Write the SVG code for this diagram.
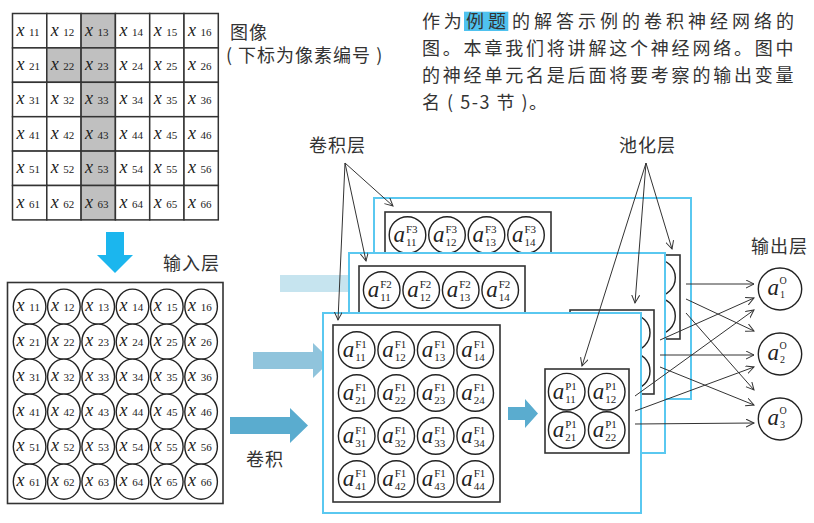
<svg xmlns="http://www.w3.org/2000/svg" width="814" height="523" viewBox="0 0 814 523">
<style>
.cell{fill:#fff;stroke:#333;stroke-width:1.5}
.gray{fill:#c0c0c0}
.xv{font-family:"Liberation Serif","Times New Roman",serif;font-style:italic;font-size:18px;fill:#222}
.sb{font-family:"Liberation Serif","Times New Roman",serif;font-style:normal;font-size:11px;fill:#222}
.nd{fill:#fff;stroke:#222;stroke-width:1.4}
.av{font-family:"Liberation Serif","Times New Roman",serif;font-style:italic;font-size:23px;fill:#222}
.sp{font-family:"Liberation Serif","Times New Roman",serif;font-style:normal;font-size:11px;fill:#222}
.op{font-family:"Liberation Serif","Times New Roman",serif;font-style:normal;font-size:10px;fill:#222}
.cj{font-family:"Noto Sans CJK SC","Noto Sans",sans-serif;font-size:18px;fill:#333;letter-spacing:1px}
.pg{font-family:"Noto Sans CJK SC","Noto Sans",sans-serif;font-size:18px;fill:#333}
.panel{fill:#fff;stroke:#5ac8f0;stroke-width:2}
.box{fill:#fff;stroke:#333;stroke-width:1.6}
.conn{stroke:#333;stroke-width:1;fill:none;marker-end:url(#ah)}
</style>
<defs>
<marker id="ah" markerUnits="userSpaceOnUse" markerWidth="10" markerHeight="10" refX="8" refY="4" orient="auto">
<path d="M0,0 L8,4 L0,8" fill="none" stroke="#333" stroke-width="1"/>
</marker>
</defs>

<!-- image grid -->
<g id="image-grid">
<g id="img-x11"><rect class="cell" x="12.5" y="13.5" width="34.3" height="34.4"/><text class="xv" x="16.5" y="35.5">x<tspan class="sb" x="29">11</tspan></text></g>
<g id="img-x12"><rect class="cell" x="46.8" y="13.5" width="34.3" height="34.4"/><text class="xv" x="50.8" y="35.5">x<tspan class="sb" x="63.3">12</tspan></text></g>
<g id="img-x13"><rect class="cell gray" x="81.1" y="13.5" width="34.3" height="34.4"/><text class="xv" x="85.1" y="35.5">x<tspan class="sb" x="97.6">13</tspan></text></g>
<g id="img-x14"><rect class="cell" x="115.4" y="13.5" width="34.3" height="34.4"/><text class="xv" x="119.4" y="35.5">x<tspan class="sb" x="131.9">14</tspan></text></g>
<g id="img-x15"><rect class="cell" x="149.7" y="13.5" width="34.3" height="34.4"/><text class="xv" x="153.7" y="35.5">x<tspan class="sb" x="166.2">15</tspan></text></g>
<g id="img-x16"><rect class="cell" x="184" y="13.5" width="34.3" height="34.4"/><text class="xv" x="188" y="35.5">x<tspan class="sb" x="200.5">16</tspan></text></g>

<g id="img-x21"><rect class="cell" x="12.5" y="47.9" width="34.3" height="34.4"/><text class="xv" x="16.5" y="69.9">x<tspan class="sb" x="29">21</tspan></text></g>
<g id="img-x22"><rect class="cell gray" x="46.8" y="47.9" width="34.3" height="34.4"/><text class="xv" x="50.8" y="69.9">x<tspan class="sb" x="63.3">22</tspan></text></g>
<g id="img-x23"><rect class="cell gray" x="81.1" y="47.9" width="34.3" height="34.4"/><text class="xv" x="85.1" y="69.9">x<tspan class="sb" x="97.6">23</tspan></text></g>
<g id="img-x24"><rect class="cell" x="115.4" y="47.9" width="34.3" height="34.4"/><text class="xv" x="119.4" y="69.9">x<tspan class="sb" x="131.9">24</tspan></text></g>
<g id="img-x25"><rect class="cell" x="149.7" y="47.9" width="34.3" height="34.4"/><text class="xv" x="153.7" y="69.9">x<tspan class="sb" x="166.2">25</tspan></text></g>
<g id="img-x26"><rect class="cell" x="184" y="47.9" width="34.3" height="34.4"/><text class="xv" x="188" y="69.9">x<tspan class="sb" x="200.5">26</tspan></text></g>

<g id="img-x31"><rect class="cell" x="12.5" y="82.3" width="34.3" height="34.4"/><text class="xv" x="16.5" y="104.3">x<tspan class="sb" x="29">31</tspan></text></g>
<g id="img-x32"><rect class="cell" x="46.8" y="82.3" width="34.3" height="34.4"/><text class="xv" x="50.8" y="104.3">x<tspan class="sb" x="63.3">32</tspan></text></g>
<g id="img-x33"><rect class="cell gray" x="81.1" y="82.3" width="34.3" height="34.4"/><text class="xv" x="85.1" y="104.3">x<tspan class="sb" x="97.6">33</tspan></text></g>
<g id="img-x34"><rect class="cell" x="115.4" y="82.3" width="34.3" height="34.4"/><text class="xv" x="119.4" y="104.3">x<tspan class="sb" x="131.9">34</tspan></text></g>
<g id="img-x35"><rect class="cell" x="149.7" y="82.3" width="34.3" height="34.4"/><text class="xv" x="153.7" y="104.3">x<tspan class="sb" x="166.2">35</tspan></text></g>
<g id="img-x36"><rect class="cell" x="184" y="82.3" width="34.3" height="34.4"/><text class="xv" x="188" y="104.3">x<tspan class="sb" x="200.5">36</tspan></text></g>

<g id="img-x41"><rect class="cell" x="12.5" y="116.7" width="34.3" height="34.4"/><text class="xv" x="16.5" y="138.7">x<tspan class="sb" x="29">41</tspan></text></g>
<g id="img-x42"><rect class="cell" x="46.8" y="116.7" width="34.3" height="34.4"/><text class="xv" x="50.8" y="138.7">x<tspan class="sb" x="63.3">42</tspan></text></g>
<g id="img-x43"><rect class="cell gray" x="81.1" y="116.7" width="34.3" height="34.4"/><text class="xv" x="85.1" y="138.7">x<tspan class="sb" x="97.6">43</tspan></text></g>
<g id="img-x44"><rect class="cell" x="115.4" y="116.7" width="34.3" height="34.4"/><text class="xv" x="119.4" y="138.7">x<tspan class="sb" x="131.9">44</tspan></text></g>
<g id="img-x45"><rect class="cell" x="149.7" y="116.7" width="34.3" height="34.4"/><text class="xv" x="153.7" y="138.7">x<tspan class="sb" x="166.2">45</tspan></text></g>
<g id="img-x46"><rect class="cell" x="184" y="116.7" width="34.3" height="34.4"/><text class="xv" x="188" y="138.7">x<tspan class="sb" x="200.5">46</tspan></text></g>

<g id="img-x51"><rect class="cell" x="12.5" y="151.1" width="34.3" height="34.4"/><text class="xv" x="16.5" y="173.1">x<tspan class="sb" x="29">51</tspan></text></g>
<g id="img-x52"><rect class="cell" x="46.8" y="151.1" width="34.3" height="34.4"/><text class="xv" x="50.8" y="173.1">x<tspan class="sb" x="63.3">52</tspan></text></g>
<g id="img-x53"><rect class="cell gray" x="81.1" y="151.1" width="34.3" height="34.4"/><text class="xv" x="85.1" y="173.1">x<tspan class="sb" x="97.6">53</tspan></text></g>
<g id="img-x54"><rect class="cell" x="115.4" y="151.1" width="34.3" height="34.4"/><text class="xv" x="119.4" y="173.1">x<tspan class="sb" x="131.9">54</tspan></text></g>
<g id="img-x55"><rect class="cell" x="149.7" y="151.1" width="34.3" height="34.4"/><text class="xv" x="153.7" y="173.1">x<tspan class="sb" x="166.2">55</tspan></text></g>
<g id="img-x56"><rect class="cell" x="184" y="151.1" width="34.3" height="34.4"/><text class="xv" x="188" y="173.1">x<tspan class="sb" x="200.5">56</tspan></text></g>

<g id="img-x61"><rect class="cell" x="12.5" y="185.5" width="34.3" height="34.4"/><text class="xv" x="16.5" y="207.5">x<tspan class="sb" x="29">61</tspan></text></g>
<g id="img-x62"><rect class="cell" x="46.8" y="185.5" width="34.3" height="34.4"/><text class="xv" x="50.8" y="207.5">x<tspan class="sb" x="63.3">62</tspan></text></g>
<g id="img-x63"><rect class="cell gray" x="81.1" y="185.5" width="34.3" height="34.4"/><text class="xv" x="85.1" y="207.5">x<tspan class="sb" x="97.6">63</tspan></text></g>
<g id="img-x64"><rect class="cell" x="115.4" y="185.5" width="34.3" height="34.4"/><text class="xv" x="119.4" y="207.5">x<tspan class="sb" x="131.9">64</tspan></text></g>
<g id="img-x65"><rect class="cell" x="149.7" y="185.5" width="34.3" height="34.4"/><text class="xv" x="153.7" y="207.5">x<tspan class="sb" x="166.2">65</tspan></text></g>
<g id="img-x66"><rect class="cell" x="184" y="185.5" width="34.3" height="34.4"/><text class="xv" x="188" y="207.5">x<tspan class="sb" x="200.5">66</tspan></text></g>
</g>

<!-- labels -->
<g id="labels">
<text class="cj" x="230" y="38.5">图像</text>
<text class="cj" x="226" y="62" letter-spacing="1.5">( 下标为像素编号 )</text>
<text class="cj" x="163" y="270">输入层</text>
<text class="cj" x="246" y="466">卷积</text>
<text class="cj" x="309" y="151.5">卷积层</text>
<text class="cj" x="619" y="151.5">池化层</text>
<text class="cj" x="751" y="252.5">输出层</text>
</g>

<!-- caption paragraph -->
<g id="caption">
<rect x="464" y="11.7" width="44.3" height="19.3" fill="#4fc2ef"/>
<text class="pg" x="422" y="28" letter-spacing="3.7">作为</text>
<text class="pg" x="466" y="28" letter-spacing="4" fill="#fff">例题</text>
<text class="pg" x="512" y="28" letter-spacing="4">的解答示例的卷积神经网络的</text>
<text class="pg" x="422" y="55" letter-spacing="2.8">图。本章我们将讲解这个神经网络。图中</text>
<text class="pg" x="422" y="82" letter-spacing="2.8">的神经单元名是后面将要考察的输出变量</text>
<text class="pg" x="422" y="108.5" letter-spacing="1.5">名 ( 5-3 节 )。</text>
</g>

<!-- big arrows -->
<g id="big-arrows">
<polygon points="106,232 124,232 124,255 133,255 115,273 97,255 106,255" fill="#1bb6ee"/>
<polygon points="280,275 352,275 352,266 370,283.5 352,301 352,292 280,292" fill="#c6e4ef"/>
<polygon points="253,352 313,352 313,343 331,360.5 313,378 313,369 253,369" fill="#90c4dc"/>
<polygon points="230,417 290,417 290,408 308,425.5 290,443 290,434 230,434" fill="#5aaccf"/>
</g>

<!-- input layer -->
<g id="input-layer">
<rect x="7.5" y="282.5" width="215.5" height="221" fill="#fff" stroke="#333" stroke-width="1.6"/>
<g id="in-x11"><ellipse class="nd" cx="29.6" cy="306.7" rx="16.3" ry="17.6"/><text class="xv" x="16.6" y="310.7">x<tspan class="sb" x="29.3">11</tspan></text></g>
<g id="in-x12"><ellipse class="nd" cx="63.9" cy="306.7" rx="16.3" ry="17.6"/><text class="xv" x="50.9" y="310.7">x<tspan class="sb" x="63.6">12</tspan></text></g>
<g id="in-x13"><ellipse class="nd" cx="98.2" cy="306.7" rx="16.3" ry="17.6"/><text class="xv" x="85.2" y="310.7">x<tspan class="sb" x="97.9">13</tspan></text></g>
<g id="in-x14"><ellipse class="nd" cx="132.5" cy="306.7" rx="16.3" ry="17.6"/><text class="xv" x="119.5" y="310.7">x<tspan class="sb" x="132.2">14</tspan></text></g>
<g id="in-x15"><ellipse class="nd" cx="166.8" cy="306.7" rx="16.3" ry="17.6"/><text class="xv" x="153.8" y="310.7">x<tspan class="sb" x="166.5">15</tspan></text></g>
<g id="in-x16"><ellipse class="nd" cx="201.1" cy="306.7" rx="16.3" ry="17.6"/><text class="xv" x="188.1" y="310.7">x<tspan class="sb" x="200.8">16</tspan></text></g>

<g id="in-x21"><ellipse class="nd" cx="29.6" cy="341.7" rx="16.3" ry="17.6"/><text class="xv" x="16.6" y="345.7">x<tspan class="sb" x="29.3">21</tspan></text></g>
<g id="in-x22"><ellipse class="nd" cx="63.9" cy="341.7" rx="16.3" ry="17.6"/><text class="xv" x="50.9" y="345.7">x<tspan class="sb" x="63.6">22</tspan></text></g>
<g id="in-x23"><ellipse class="nd" cx="98.2" cy="341.7" rx="16.3" ry="17.6"/><text class="xv" x="85.2" y="345.7">x<tspan class="sb" x="97.9">23</tspan></text></g>
<g id="in-x24"><ellipse class="nd" cx="132.5" cy="341.7" rx="16.3" ry="17.6"/><text class="xv" x="119.5" y="345.7">x<tspan class="sb" x="132.2">24</tspan></text></g>
<g id="in-x25"><ellipse class="nd" cx="166.8" cy="341.7" rx="16.3" ry="17.6"/><text class="xv" x="153.8" y="345.7">x<tspan class="sb" x="166.5">25</tspan></text></g>
<g id="in-x26"><ellipse class="nd" cx="201.1" cy="341.7" rx="16.3" ry="17.6"/><text class="xv" x="188.1" y="345.7">x<tspan class="sb" x="200.8">26</tspan></text></g>

<g id="in-x31"><ellipse class="nd" cx="29.6" cy="376.7" rx="16.3" ry="17.6"/><text class="xv" x="16.6" y="380.7">x<tspan class="sb" x="29.3">31</tspan></text></g>
<g id="in-x32"><ellipse class="nd" cx="63.9" cy="376.7" rx="16.3" ry="17.6"/><text class="xv" x="50.9" y="380.7">x<tspan class="sb" x="63.6">32</tspan></text></g>
<g id="in-x33"><ellipse class="nd" cx="98.2" cy="376.7" rx="16.3" ry="17.6"/><text class="xv" x="85.2" y="380.7">x<tspan class="sb" x="97.9">33</tspan></text></g>
<g id="in-x34"><ellipse class="nd" cx="132.5" cy="376.7" rx="16.3" ry="17.6"/><text class="xv" x="119.5" y="380.7">x<tspan class="sb" x="132.2">34</tspan></text></g>
<g id="in-x35"><ellipse class="nd" cx="166.8" cy="376.7" rx="16.3" ry="17.6"/><text class="xv" x="153.8" y="380.7">x<tspan class="sb" x="166.5">35</tspan></text></g>
<g id="in-x36"><ellipse class="nd" cx="201.1" cy="376.7" rx="16.3" ry="17.6"/><text class="xv" x="188.1" y="380.7">x<tspan class="sb" x="200.8">36</tspan></text></g>

<g id="in-x41"><ellipse class="nd" cx="29.6" cy="411.7" rx="16.3" ry="17.6"/><text class="xv" x="16.6" y="415.7">x<tspan class="sb" x="29.3">41</tspan></text></g>
<g id="in-x42"><ellipse class="nd" cx="63.9" cy="411.7" rx="16.3" ry="17.6"/><text class="xv" x="50.9" y="415.7">x<tspan class="sb" x="63.6">42</tspan></text></g>
<g id="in-x43"><ellipse class="nd" cx="98.2" cy="411.7" rx="16.3" ry="17.6"/><text class="xv" x="85.2" y="415.7">x<tspan class="sb" x="97.9">43</tspan></text></g>
<g id="in-x44"><ellipse class="nd" cx="132.5" cy="411.7" rx="16.3" ry="17.6"/><text class="xv" x="119.5" y="415.7">x<tspan class="sb" x="132.2">44</tspan></text></g>
<g id="in-x45"><ellipse class="nd" cx="166.8" cy="411.7" rx="16.3" ry="17.6"/><text class="xv" x="153.8" y="415.7">x<tspan class="sb" x="166.5">45</tspan></text></g>
<g id="in-x46"><ellipse class="nd" cx="201.1" cy="411.7" rx="16.3" ry="17.6"/><text class="xv" x="188.1" y="415.7">x<tspan class="sb" x="200.8">46</tspan></text></g>

<g id="in-x51"><ellipse class="nd" cx="29.6" cy="446.7" rx="16.3" ry="17.6"/><text class="xv" x="16.6" y="450.7">x<tspan class="sb" x="29.3">51</tspan></text></g>
<g id="in-x52"><ellipse class="nd" cx="63.9" cy="446.7" rx="16.3" ry="17.6"/><text class="xv" x="50.9" y="450.7">x<tspan class="sb" x="63.6">52</tspan></text></g>
<g id="in-x53"><ellipse class="nd" cx="98.2" cy="446.7" rx="16.3" ry="17.6"/><text class="xv" x="85.2" y="450.7">x<tspan class="sb" x="97.9">53</tspan></text></g>
<g id="in-x54"><ellipse class="nd" cx="132.5" cy="446.7" rx="16.3" ry="17.6"/><text class="xv" x="119.5" y="450.7">x<tspan class="sb" x="132.2">54</tspan></text></g>
<g id="in-x55"><ellipse class="nd" cx="166.8" cy="446.7" rx="16.3" ry="17.6"/><text class="xv" x="153.8" y="450.7">x<tspan class="sb" x="166.5">55</tspan></text></g>
<g id="in-x56"><ellipse class="nd" cx="201.1" cy="446.7" rx="16.3" ry="17.6"/><text class="xv" x="188.1" y="450.7">x<tspan class="sb" x="200.8">56</tspan></text></g>

<g id="in-x61"><ellipse class="nd" cx="29.6" cy="481.7" rx="16.3" ry="17.6"/><text class="xv" x="16.6" y="485.7">x<tspan class="sb" x="29.3">61</tspan></text></g>
<g id="in-x62"><ellipse class="nd" cx="63.9" cy="481.7" rx="16.3" ry="17.6"/><text class="xv" x="50.9" y="485.7">x<tspan class="sb" x="63.6">62</tspan></text></g>
<g id="in-x63"><ellipse class="nd" cx="98.2" cy="481.7" rx="16.3" ry="17.6"/><text class="xv" x="85.2" y="485.7">x<tspan class="sb" x="97.9">63</tspan></text></g>
<g id="in-x64"><ellipse class="nd" cx="132.5" cy="481.7" rx="16.3" ry="17.6"/><text class="xv" x="119.5" y="485.7">x<tspan class="sb" x="132.2">64</tspan></text></g>
<g id="in-x65"><ellipse class="nd" cx="166.8" cy="481.7" rx="16.3" ry="17.6"/><text class="xv" x="153.8" y="485.7">x<tspan class="sb" x="166.5">65</tspan></text></g>
<g id="in-x66"><ellipse class="nd" cx="201.1" cy="481.7" rx="16.3" ry="17.6"/><text class="xv" x="188.1" y="485.7">x<tspan class="sb" x="200.8">66</tspan></text></g>
</g>

<!-- feature map F3 -->
<g id="map-F3">
<rect class="panel" x="374" y="198" width="317" height="201"/>
<rect class="box" x="385" y="212" width="166" height="177"/>
<g id="aF3-11"><circle class="nd" cx="407.5" cy="235" r="18.3"/><text class="av" x="393.5" y="242">a<tspan class="sp" x="406" y="233">F3</tspan><tspan class="sp" x="406" y="246">11</tspan></text></g>
<g id="aF3-12"><circle class="nd" cx="447" cy="235" r="18.3"/><text class="av" x="433" y="242">a<tspan class="sp" x="445.5" y="233">F3</tspan><tspan class="sp" x="445.5" y="246">12</tspan></text></g>
<g id="aF3-13"><circle class="nd" cx="486.5" cy="235" r="18.3"/><text class="av" x="472.5" y="242">a<tspan class="sp" x="485" y="233">F3</tspan><tspan class="sp" x="485" y="246">13</tspan></text></g>
<g id="aF3-14"><circle class="nd" cx="526" cy="235" r="18.3"/><text class="av" x="512" y="242">a<tspan class="sp" x="524.5" y="233">F3</tspan><tspan class="sp" x="524.5" y="246">14</tspan></text></g>
<g id="pool-P3">
<rect class="box" x="596" y="255" width="84" height="84"/>
<circle class="nd" cx="617" cy="277.7" r="18.3"/><circle class="nd" cx="657" cy="277.7" r="18.3"/>
<circle class="nd" cx="617" cy="316" r="18.3"/><circle class="nd" cx="657" cy="316" r="18.3"/>
</g>
</g>

<!-- feature map F2 -->
<g id="map-F2">
<rect class="panel" x="349" y="253" width="316" height="200"/>
<rect class="box" x="359" y="266" width="166" height="177"/>
<g id="aF2-11"><circle class="nd" cx="381.7" cy="290" r="18.3"/><text class="av" x="367.7" y="297">a<tspan class="sp" x="380.2" y="288">F2</tspan><tspan class="sp" x="380.2" y="301">11</tspan></text></g>
<g id="aF2-12"><circle class="nd" cx="421.2" cy="290" r="18.3"/><text class="av" x="407.2" y="297">a<tspan class="sp" x="419.7" y="288">F2</tspan><tspan class="sp" x="419.7" y="301">12</tspan></text></g>
<g id="aF2-13"><circle class="nd" cx="460.7" cy="290" r="18.3"/><text class="av" x="446.7" y="297">a<tspan class="sp" x="459.2" y="288">F2</tspan><tspan class="sp" x="459.2" y="301">13</tspan></text></g>
<g id="aF2-14"><circle class="nd" cx="500.2" cy="290" r="18.3"/><text class="av" x="486.2" y="297">a<tspan class="sp" x="498.7" y="288">F2</tspan><tspan class="sp" x="498.7" y="301">14</tspan></text></g>
<g id="pool-P2">
<rect class="box" x="570" y="310" width="84" height="84"/>
<circle class="nd" cx="591.7" cy="332.7" r="18.3"/><circle class="nd" cx="631.7" cy="332.7" r="18.3"/>
<circle class="nd" cx="591.7" cy="371" r="18.3"/><circle class="nd" cx="631.7" cy="371" r="18.3"/>
</g>
</g>

<!-- feature map F1 -->
<g id="map-F1">
<rect class="panel" x="323" y="313" width="318" height="200"/>
<rect class="box" x="333" y="325" width="167" height="177"/>
<g id="aF1-11"><circle class="nd" cx="356.7" cy="350" r="18.3"/><text class="av" x="342.7" y="357">a<tspan class="sp" x="355.2" y="348">F1</tspan><tspan class="sp" x="355.2" y="361">11</tspan></text></g>
<g id="aF1-12"><circle class="nd" cx="396.2" cy="350" r="18.3"/><text class="av" x="382.2" y="357">a<tspan class="sp" x="394.7" y="348">F1</tspan><tspan class="sp" x="394.7" y="361">12</tspan></text></g>
<g id="aF1-13"><circle class="nd" cx="435.7" cy="350" r="18.3"/><text class="av" x="421.7" y="357">a<tspan class="sp" x="434.2" y="348">F1</tspan><tspan class="sp" x="434.2" y="361">13</tspan></text></g>
<g id="aF1-14"><circle class="nd" cx="475.2" cy="350" r="18.3"/><text class="av" x="461.2" y="357">a<tspan class="sp" x="473.7" y="348">F1</tspan><tspan class="sp" x="473.7" y="361">14</tspan></text></g>
<g id="aF1-21"><circle class="nd" cx="356.7" cy="393" r="18.3"/><text class="av" x="342.7" y="400">a<tspan class="sp" x="355.2" y="391">F1</tspan><tspan class="sp" x="355.2" y="404">21</tspan></text></g>
<g id="aF1-22"><circle class="nd" cx="396.2" cy="393" r="18.3"/><text class="av" x="382.2" y="400">a<tspan class="sp" x="394.7" y="391">F1</tspan><tspan class="sp" x="394.7" y="404">22</tspan></text></g>
<g id="aF1-23"><circle class="nd" cx="435.7" cy="393" r="18.3"/><text class="av" x="421.7" y="400">a<tspan class="sp" x="434.2" y="391">F1</tspan><tspan class="sp" x="434.2" y="404">23</tspan></text></g>
<g id="aF1-24"><circle class="nd" cx="475.2" cy="393" r="18.3"/><text class="av" x="461.2" y="400">a<tspan class="sp" x="473.7" y="391">F1</tspan><tspan class="sp" x="473.7" y="404">24</tspan></text></g>
<g id="aF1-31"><circle class="nd" cx="356.7" cy="436" r="18.3"/><text class="av" x="342.7" y="443">a<tspan class="sp" x="355.2" y="434">F1</tspan><tspan class="sp" x="355.2" y="447">31</tspan></text></g>
<g id="aF1-32"><circle class="nd" cx="396.2" cy="436" r="18.3"/><text class="av" x="382.2" y="443">a<tspan class="sp" x="394.7" y="434">F1</tspan><tspan class="sp" x="394.7" y="447">32</tspan></text></g>
<g id="aF1-33"><circle class="nd" cx="435.7" cy="436" r="18.3"/><text class="av" x="421.7" y="443">a<tspan class="sp" x="434.2" y="434">F1</tspan><tspan class="sp" x="434.2" y="447">33</tspan></text></g>
<g id="aF1-34"><circle class="nd" cx="475.2" cy="436" r="18.3"/><text class="av" x="461.2" y="443">a<tspan class="sp" x="473.7" y="434">F1</tspan><tspan class="sp" x="473.7" y="447">34</tspan></text></g>
<g id="aF1-41"><circle class="nd" cx="356.7" cy="479" r="18.3"/><text class="av" x="342.7" y="486">a<tspan class="sp" x="355.2" y="477">F1</tspan><tspan class="sp" x="355.2" y="490">41</tspan></text></g>
<g id="aF1-42"><circle class="nd" cx="396.2" cy="479" r="18.3"/><text class="av" x="382.2" y="486">a<tspan class="sp" x="394.7" y="477">F1</tspan><tspan class="sp" x="394.7" y="490">42</tspan></text></g>
<g id="aF1-43"><circle class="nd" cx="435.7" cy="479" r="18.3"/><text class="av" x="421.7" y="486">a<tspan class="sp" x="434.2" y="477">F1</tspan><tspan class="sp" x="434.2" y="490">43</tspan></text></g>
<g id="aF1-44"><circle class="nd" cx="475.2" cy="479" r="18.3"/><text class="av" x="461.2" y="486">a<tspan class="sp" x="473.7" y="477">F1</tspan><tspan class="sp" x="473.7" y="490">44</tspan></text></g>
<polygon points="508,407 525,407 525,399 538,413.5 525,428 525,420 508,420" fill="#5aaccf"/>
<g id="pool-P1">
<rect class="box" x="545" y="369" width="84" height="84"/>
<g id="aP1-11"><circle class="nd" cx="566.7" cy="391.7" r="18.3"/><text class="av" x="552.7" y="398.7">a<tspan class="sp" x="565.2" y="389.7">P1</tspan><tspan class="sp" x="565.2" y="402.7">11</tspan></text></g>
<g id="aP1-12"><circle class="nd" cx="606.7" cy="391.7" r="18.3"/><text class="av" x="592.7" y="398.7">a<tspan class="sp" x="605.2" y="389.7">P1</tspan><tspan class="sp" x="605.2" y="402.7">12</tspan></text></g>
<g id="aP1-21"><circle class="nd" cx="566.7" cy="430" r="18.3"/><text class="av" x="552.7" y="437">a<tspan class="sp" x="565.2" y="428">P1</tspan><tspan class="sp" x="565.2" y="441">21</tspan></text></g>
<g id="aP1-22"><circle class="nd" cx="606.7" cy="430" r="18.3"/><text class="av" x="592.7" y="437">a<tspan class="sp" x="605.2" y="428">P1</tspan><tspan class="sp" x="605.2" y="441">22</tspan></text></g>
</g>
</g>

<!-- output layer -->
<g id="output-layer">
<g id="out-a1"><ellipse class="nd" cx="780" cy="289" rx="21.7" ry="21"/><text class="av" x="767.5" y="295" font-size="22">a<tspan class="op" x="779.5" y="284">O</tspan><tspan class="op" x="780" y="298">1</tspan></text></g>
<g id="out-a2"><ellipse class="nd" cx="780" cy="354" rx="21.7" ry="21"/><text class="av" x="767.5" y="360" font-size="22">a<tspan class="op" x="779.5" y="349">O</tspan><tspan class="op" x="780" y="363">2</tspan></text></g>
<g id="out-a3"><ellipse class="nd" cx="780" cy="419" rx="21.7" ry="21"/><text class="av" x="767.5" y="425" font-size="22">a<tspan class="op" x="779.5" y="414">O</tspan><tspan class="op" x="780" y="428">3</tspan></text></g>
</g>

<!-- connectors -->
<g id="connectors">
<line class="conn" x1="686" y1="284" x2="754" y2="284"/>
<line class="conn" x1="686" y1="299" x2="754" y2="331"/>
<line class="conn" x1="686" y1="313" x2="754" y2="390"/>
<line class="conn" x1="660" y1="340" x2="754" y2="298"/>
<line class="conn" x1="660" y1="355" x2="754" y2="355"/>
<line class="conn" x1="660" y1="367" x2="754" y2="405"/>
<line class="conn" x1="635" y1="396" x2="754" y2="310"/>
<line class="conn" x1="635" y1="411" x2="754" y2="367"/>
<line class="conn" x1="635" y1="424" x2="754" y2="423"/>
<line class="conn" x1="345" y1="163" x2="393" y2="206"/>
<line class="conn" x1="345" y1="163" x2="366" y2="261"/>
<line class="conn" x1="345" y1="163" x2="338" y2="320"/>
<line class="conn" x1="646" y1="163" x2="672" y2="249"/>
<line class="conn" x1="646" y1="163" x2="635" y2="303"/>
<line class="conn" x1="646" y1="163" x2="582" y2="366"/>
</g>
</svg>
